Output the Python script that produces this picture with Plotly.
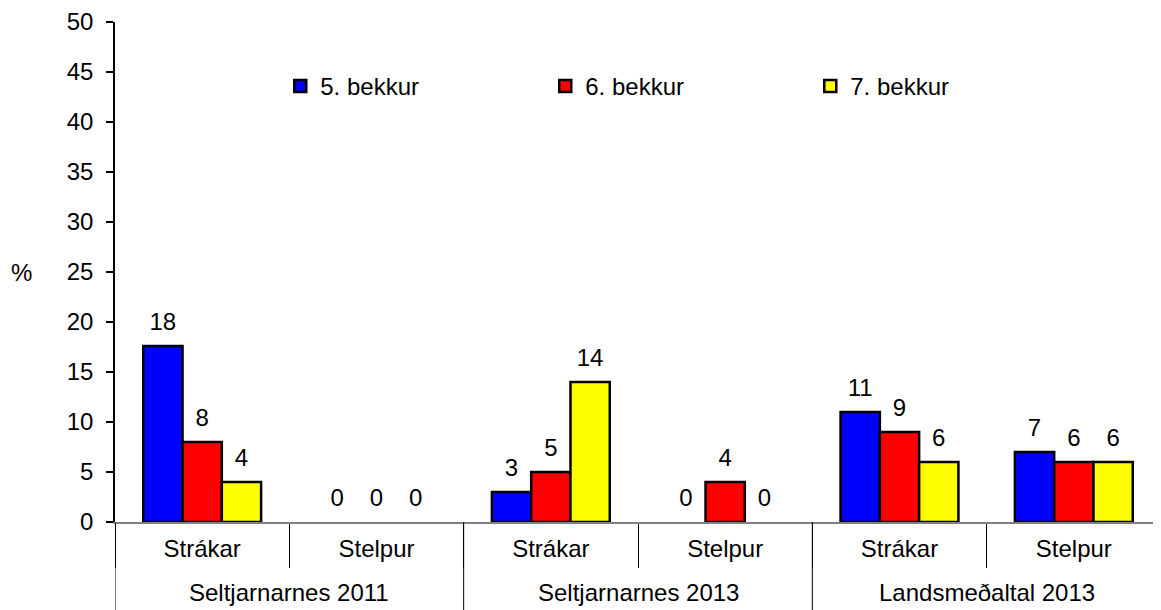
import plotly.graph_objects as go

groups = ["Seltjarnarnes 2011", "Seltjarnarnes 2011", "Seltjarnarnes 2013", "Seltjarnarnes 2013",
          "Landsmeðaltal 2013", "Landsmeðaltal 2013"]
genders = ["Strákar", "Stelpur", "Strákar", "Stelpur", "Strákar", "Stelpur"]
group_names = ["Seltjarnarnes 2011", "Seltjarnarnes 2013", "Landsmeðaltal 2013"]
series_names = ["5. bekkur", "6. bekkur", "7. bekkur"]
bekkur5 = [17.6, 0, 3, 0, 11, 7]
bekkur6 = [8, 0, 5, 4, 9, 6]
bekkur7 = [4, 0, 14, 0, 6, 6]
colors = ["#0000FF", "#FF0000", "#FFFF00"]

FONT = "Liberation Sans, Arial, sans-serif"
FS = 24
GAP = 0.324

cat_ids = [f"{g} | {s}" for g, s in zip(groups, genders)]

fig = go.Figure()
for i, (name, vals, col) in enumerate(zip(series_names, [bekkur5, bekkur6, bekkur7], colors)):
    fig.add_trace(go.Bar(
        x=cat_ids, y=vals, name=name,
        marker=dict(color=col, line=dict(color="black", width=[0 if v == 0 else 2.5 for v in vals])),
        offsetgroup=str(i), hoverinfo="skip",
    ))
for i, vals in enumerate([bekkur5, bekkur6, bekkur7]):
    fig.add_trace(go.Scatter(
        x=cat_ids, y=vals, mode="markers+text",
        marker=dict(size=14, opacity=0, color="white"),
        text=[f"{v:.0f}" for v in vals], textposition="top center",
        textfont=dict(family=FONT, size=FS, color="black"),
        offsetgroup=str(i), showlegend=False, hoverinfo="skip", cliponaxis=False,
    ))

fig.update_layout(
    width=1153, height=602,
    margin=dict(l=107, r=0, t=11, b=88),
    paper_bgcolor="white", plot_bgcolor="white",
    barmode="group", bargap=GAP, bargroupgap=0,
    scattermode="group", scattergap=GAP,
    font=dict(family=FONT, size=FS, color="black"),
    legend=dict(orientation="h", x=0.158, y=0.871, xanchor="left", yanchor="middle",
                entrywidth=220, entrywidthmode="pixels", itemwidth=30,
                font=dict(family=FONT, size=FS, color="black"), bgcolor="rgba(0,0,0,0)"),
    showlegend=True,
)
fig.update_yaxes(range=[0, 50], dtick=5, tick0=0, showgrid=False, zeroline=False,
                 showline=True, linecolor="black", linewidth=1.5,
                 ticks="outside", ticklen=7, tickcolor="black", tickwidth=1.5,
                 ticklabelstandoff=8, ticklabeloverflow="allow",
                 tickfont=dict(family=FONT, size=FS, color="black"))
fig.update_xaxes(type="category", categoryorder="array", categoryarray=cat_ids,
                 tickmode="array", tickvals=cat_ids, ticktext=genders,
                 range=[-0.5, len(cat_ids) - 0.5],
                 showgrid=False, showline=True, linecolor="#808080", linewidth=1.5,
                 ticks="outside", tickson="boundaries", ticklen=44, tickcolor="black", tickwidth=1,
                 ticklabelstandoff=4,
                 tickfont=dict(family=FONT, size=FS, color="black"))

# group labels and group dividers below the axis
n_sub = len(cat_ids) // len(group_names)
for k, gname in enumerate(group_names):
    first = k * n_sub
    fig.add_annotation(text=gname, xref="x", yref="paper", x=first + (n_sub - 1) / 2, y=-0.141,
                       showarrow=False, xanchor="center", yanchor="middle",
                       font=dict(family=FONT, size=FS, color="black"))
    fig.add_shape(type="line", xref="x", yref="paper", x0=first - 0.5, x1=first - 0.5,
                  y0=0, y1=-0.2, line=dict(color="black", width=1))

fig.add_annotation(text="%", xref="paper", yref="paper", x=-0.089, y=0.5, showarrow=False,
                   font=dict(family=FONT, size=FS, color="black"), xanchor="center", yanchor="middle")

fig.write_html("out.html")
